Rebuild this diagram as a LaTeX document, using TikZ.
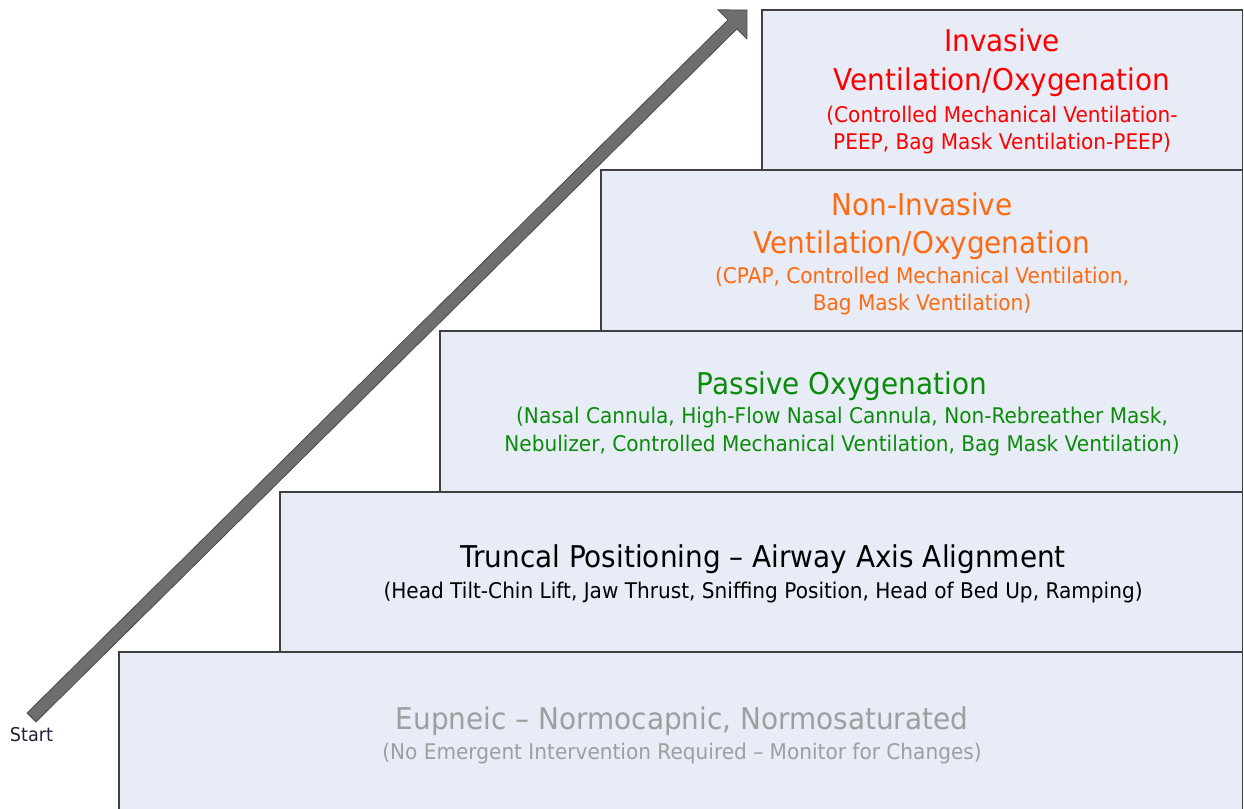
\documentclass[tikz,border=0pt]{standalone}
\usepackage{fontspec}
\setmainfont{DejaVu Sans}[FakeStretch=0.93]
\usetikzlibrary{calc}
\definecolor{boxfill}{HTML}{E7ECF6}
\definecolor{boxline}{HTML}{404040}
\definecolor{arrfill}{HTML}{6E6E6E}
\definecolor{arrline}{HTML}{4A4A4A}
\definecolor{cred}{HTML}{FF0000}
\definecolor{corange}{HTML}{FF6A10}
\definecolor{cgreen}{HTML}{0A8C0A}
\definecolor{cgray}{HTML}{9E9E9E}
\definecolor{cstart}{HTML}{22223A}
\begin{document}
\begin{tikzpicture}[x=1pt,y=-1pt,
  stepbox/.style={draw=boxline, fill=boxfill, line width=1.4pt},
  ttl/.style={anchor=base, inner sep=0pt, font=\fontsize{30}{36}\selectfont},
  sub/.style={anchor=base, inner sep=0pt, font=\fontsize{21.6}{26}\selectfont}]
\useasboundingbox (0,0) rectangle (1244,808);
\clip (0,0) rectangle (1244,808);
% steps
\draw[stepbox] (119,652) rectangle (1242.5,815);
\draw[stepbox] (280,492) rectangle (1242.5,652);
\draw[stepbox] (440,331) rectangle (1242.5,492);
\draw[stepbox] (601,170) rectangle (1242.5,331);
\draw[stepbox] (762,10) rectangle (1242.5,170);
% arrow
\coordinate (T) at (31.5,717.5);
\coordinate (P) at (747,10);
\coordinate (H) at ($(P)!20.5pt!(T)$);
\draw[fill=arrfill, draw=arrline, line width=0.8pt, line join=miter]
  ($(T)!6.3pt!90:(P)$) -- ($(H)!6.3pt!90:(P)$) -- ($(H)!20.5pt!90:(P)$) -- (P)
  -- ($(H)!20.5pt!-90:(P)$) -- ($(H)!6.3pt!-90:(P)$) -- ($(T)!6.3pt!-90:(P)$) -- cycle;
\node[anchor=base, inner sep=0pt, text=cstart, font=\fontsize{19}{22}\selectfont] (start) at (31.5,741) {Start};
% texts
\node[ttl, text=cred] (inv1) at (1002,52) {Invasive};
\node[ttl, text=cred] (inv2) at (1002,90) {Ventilation/Oxygenation};
\node[sub, text=cred] (inv3) at (1002,122) {(Controlled Mechanical Ventilation-};
\node[sub, text=cred] (inv4) at (1002,149) {PEEP, Bag Mask Ventilation-PEEP)};
\node[ttl, text=corange] (niv1) at (922,215) {Non-Invasive};
\node[ttl, text=corange] (niv2) at (922,253) {Ventilation/Oxygenation};
\node[sub, text=corange] (niv3) at (922,283) {(CPAP, Controlled Mechanical Ventilation,};
\node[sub, text=corange] (niv4) at (922,310) {Bag Mask Ventilation)};
\node[ttl, text=cgreen] (pas1) at (842,394) {Passive Oxygenation};
\node[sub, text=cgreen] (pas2) at (842,423) {(Nasal Cannula, High-Flow Nasal Cannula, Non-Rebreather Mask,};
\node[sub, text=cgreen] (pas3) at (842,451) {Nebulizer, Controlled Mechanical Ventilation, Bag Mask Ventilation)};
\node[ttl, text=black] (tru1) at (763,567) {Truncal Positioning -- Airway Axis Alignment};
\node[sub, text=black] (tru2) at (763,598) {(Head Tilt-Chin Lift, Jaw Thrust, Sniffing Position, Head of Bed Up, Ramping)};
\node[ttl, text=cgray] (eup1) at (682,729) {Eupneic -- Normocapnic, Normosaturated};
\node[sub, text=cgray] (eup2) at (682,759) {(No Emergent Intervention Required -- Monitor for Changes)};
\end{tikzpicture}
\end{document}
